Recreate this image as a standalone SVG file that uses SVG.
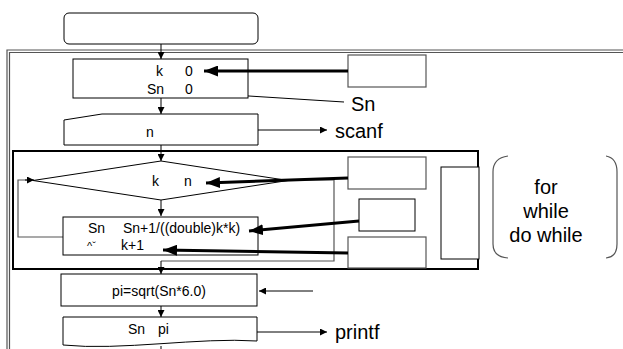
<svg xmlns="http://www.w3.org/2000/svg" width="623" height="349" viewBox="0 0 623 349">
<defs>
<marker id="ah" viewBox="0 0 10 10" refX="10" refY="5" markerWidth="7" markerHeight="7" markerUnits="userSpaceOnUse" orient="auto"><path d="M0,0 L10,5 L0,10 z" fill="#000"/></marker>
<marker id="ahb" viewBox="0 0 10 10" refX="10" refY="5" markerWidth="14" markerHeight="11" markerUnits="userSpaceOnUse" orient="auto" preserveAspectRatio="none"><path d="M0,0 L10,5 L0,10 z" fill="#000"/></marker>
</defs>
<style>
.box{fill:#fff;stroke:#000;stroke-width:1}
.gbox{fill:#fff;stroke:#555;stroke-width:1.2}
.t{font-family:"Liberation Sans",Arial,sans-serif;font-size:14px;fill:#000}
.tl{font-family:"Liberation Sans",Arial,sans-serif;font-size:20px;fill:#000}
.ln{fill:none;stroke:#000;stroke-width:1}
.gl{fill:none;stroke:#555;stroke-width:1.2}
.thick{fill:none;stroke:#000;stroke-width:3}
</style>
<rect width="623" height="349" fill="#fff"/>
<g id="frame">
<path d="M7,349 V50 H623" fill="none" stroke="#555" stroke-width="1.2"/>
<path d="M9.5,349 V52.5 H623" fill="none" stroke="#555" stroke-width="1.2"/>
</g>
<g id="connectors">
<line class="ln" x1="161" y1="44" x2="161" y2="59" marker-end="url(#ah)"/>
<line class="ln" x1="161" y1="98" x2="161" y2="114" marker-end="url(#ah)"/>
<line class="ln" x1="161" y1="145" x2="161" y2="161" marker-end="url(#ah)"/>
<line class="ln" x1="161" y1="200" x2="161" y2="216" marker-end="url(#ah)"/>
<polyline class="gl" points="288,180 334,180 334,261 161,261"/>
<line class="ln" x1="161" y1="261" x2="161" y2="274" marker-end="url(#ah)"/>
<line class="ln" x1="161" y1="306" x2="161" y2="317" marker-end="url(#ah)"/>
<line class="ln" x1="161" y1="346" x2="161" y2="349"/>
<polyline class="gl" points="63,237 18,237 18,180 33,180"/>
<line class="ln" x1="25" y1="180" x2="34" y2="180" marker-end="url(#ah)"/>
<line class="ln" x1="258" y1="130" x2="327" y2="130" marker-end="url(#ah)"/>
<line class="ln" x1="344" y1="102" x2="201" y2="93" marker-end="url(#ah)"/>
<line class="ln" x1="313" y1="291" x2="259" y2="291" marker-end="url(#ah)"/>
<line class="ln" x1="257" y1="332" x2="327" y2="332" marker-end="url(#ah)"/>
</g>
<g id="loop">
<rect x="13" y="151" width="465" height="118" fill="none" stroke="#000" stroke-width="2"/>
</g>
<g id="start"><rect class="box" x="64" y="13" width="194" height="31" rx="5"/></g>
<g id="init">
<rect class="box" x="73" y="59" width="175" height="39"/>
<text class="t" x="156" y="76">k</text><text class="t" x="185" y="76">0</text>
<text class="t" x="147" y="94">Sn</text><text class="t" x="185" y="94">0</text>
</g>
<g id="input">
<polygon class="box" points="64,120 102,114 258,114 258,145 64,145"/>
<text class="t" x="146" y="137">n</text>
</g>
<g id="cond">
<polygon class="box" points="161,161 288,180.5 161,200 33,180.5"/>
<text class="t" x="152" y="186">k</text><text class="t" x="184" y="186">n</text>
</g>
<g id="body">
<rect class="box" x="63" y="217" width="195" height="38"/>
<text class="t" x="88" y="233">Sn</text><text class="t" x="123" y="233">Sn+1/((double)k*k)</text>
<text class="t" x="87" y="250" style="font-size:11px">^ˇ</text><text class="t" x="121" y="250">k+1</text>
</g>
<g id="calc">
<rect class="box" x="61" y="274" width="196" height="32"/>
<text class="t" x="159" y="296" text-anchor="middle">pi=sqrt(Sn*6.0)</text>
</g>
<g id="output">
<path class="box" d="M63,317 H257 V341 C200,337 120,351 63,345 Z"/>
<text class="t" x="128" y="334">Sn</text><text class="t" x="158" y="334">pi</text>
</g>
<g id="note1"><rect class="gbox" x="348" y="55" width="78" height="32"/></g>
<g id="note2"><rect class="gbox" x="348" y="157" width="78" height="32"/></g>
<g id="note3"><rect class="box" x="359" y="199" width="56" height="32"/></g>
<g id="note4"><rect class="gbox" x="348" y="237" width="78" height="31"/></g>
<g id="note5"><rect class="box" x="441" y="167" width="38" height="92"/></g>
<g id="thick-arrows">
<line class="thick" x1="348" y1="71" x2="204" y2="71" marker-end="url(#ahb)"/>
<line class="thick" x1="348" y1="178" x2="206" y2="183" marker-end="url(#ahb)"/>
<line class="thick" x1="359" y1="221" x2="249" y2="231" marker-end="url(#ahb)"/>
<line class="thick" x1="348" y1="253" x2="163" y2="250" marker-end="url(#ahb)"/>
</g>
<g id="labels">
<text class="tl" x="351" y="111">Sn</text>
<text class="tl" x="335" y="138">scanf</text>
<text class="tl" x="335" y="339">printf</text>
</g>
<g id="loops-note">
<path d="M508,156 Q493,158 493,172 V244 Q493,257 508,258" fill="none" stroke="#555" stroke-width="1.2"/>
<path d="M606,156 Q617,158 617,172 V244 Q617,257 606,258" fill="none" stroke="#555" stroke-width="1.2"/>
<text class="tl" x="546" y="194" text-anchor="middle">for</text>
<text class="tl" x="546" y="218" text-anchor="middle">while</text>
<text class="tl" x="546" y="242" text-anchor="middle">do while</text>
</g>
</svg>
